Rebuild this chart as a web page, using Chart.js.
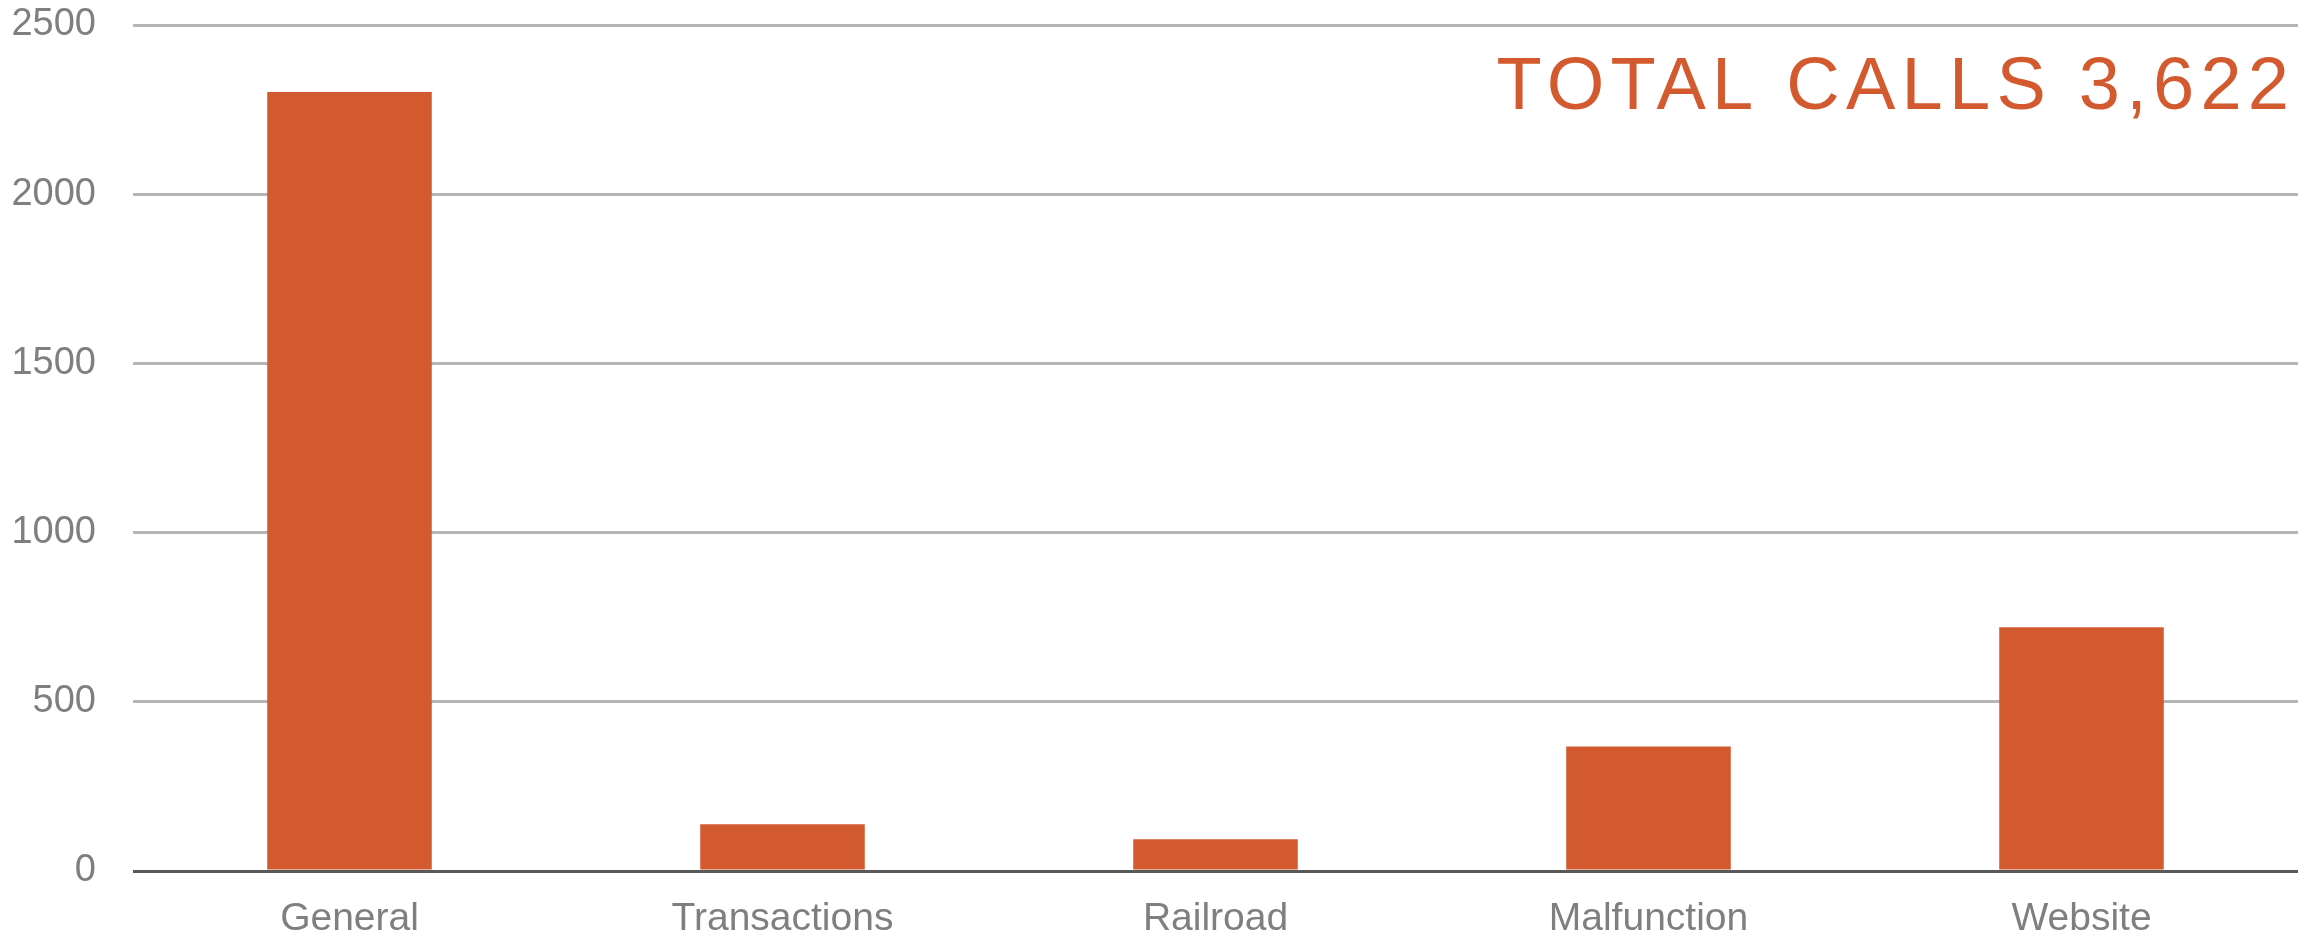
<!DOCTYPE html>
<html>
<head>
<meta charset="utf-8">
<script src="https://cdn.jsdelivr.net/npm/chart.js@4"></script>
<style>
  body { margin: 0; background: #fff; overflow: hidden; }
  #wrap { width: 2323px; height: 938px; position: relative; }
</style>
</head>
<body>
<div id="wrap"><canvas id="callsChart"></canvas></div>
<script>
// categorias e valores
const categories = ['General', 'Transactions', 'Railroad', 'Malfunction', 'Website'];
const calls = [2302, 138, 94, 368, 720];
const yTicks = [0, 500, 1000, 1500, 2000, 2500];
const totalLabel = 'TOTAL CALLS 3,622';

const orange = '#D35A2E';
const grey = '#7F7F7F';

// texto do total no canto superior direito
const totalText = {
    id: 'totalText',
    afterDraw(chart) {
        const ctx = chart.ctx;
        const spacing = 6.25;
        ctx.save();
        ctx.font = '74px "Liberation Sans", Arial, sans-serif';
        ctx.letterSpacing = spacing + 'px';
        ctx.fillStyle = orange;
        ctx.textAlign = 'right';
        ctx.textBaseline = 'alphabetic';
        ctx.fillText(totalLabel, 2289 + spacing, 109);
        ctx.restore();
    }
};

const ctxCalls = document.getElementById('callsChart').getContext('2d');
const callsChart = new Chart(ctxCalls, {
    type: 'bar',
    data: {
        labels: categories,
        datasets: [{
            label: 'Calls',
            data: calls,
            backgroundColor: orange,
            borderWidth: 0,
            barPercentage: 0.38,
            categoryPercentage: 1
        }]
    },
    options: {
        responsive: true,
        maintainAspectRatio: false,
        animation: false,
        layout: { padding: { top: 25, right: 25, left: 0, bottom: 0 } },
        plugins: {
            legend: { display: false },
            tooltip: { enabled: false }
        },
        scales: {
            x: {
                grid: { display: false },
                border: { display: false },
                ticks: {
                    color: grey,
                    padding: 17,
                    font: { family: '"Liberation Sans", Arial, sans-serif', size: 39 }
                },
                afterFit: (scale) => { scale.height = 67; }
            },
            y: {
                min: 0,
                max: 2500,
                afterBuildTicks: (scale) => { scale.ticks = yTicks.map(v => ({ value: v })); },
                grid: {
                    drawTicks: false,
                    color: (c) => c.tick && c.tick.value === 0 ? '#595959' : '#B5B5B5',
                    lineWidth: 3
                },
                border: { display: false },
                ticks: {
                    color: grey,
                    padding: 37,
                    callback: (v) => String(v),
                    font: { family: '"Liberation Sans", Arial, sans-serif', size: 38 }
                },
                afterFit: (scale) => {
                    scale.width = 133;
                    scale.paddingTop = 0;
                    scale.paddingBottom = 0;
                }
            }
        }
    },
    plugins: [totalText]
});
</script>
</body>
</html>
